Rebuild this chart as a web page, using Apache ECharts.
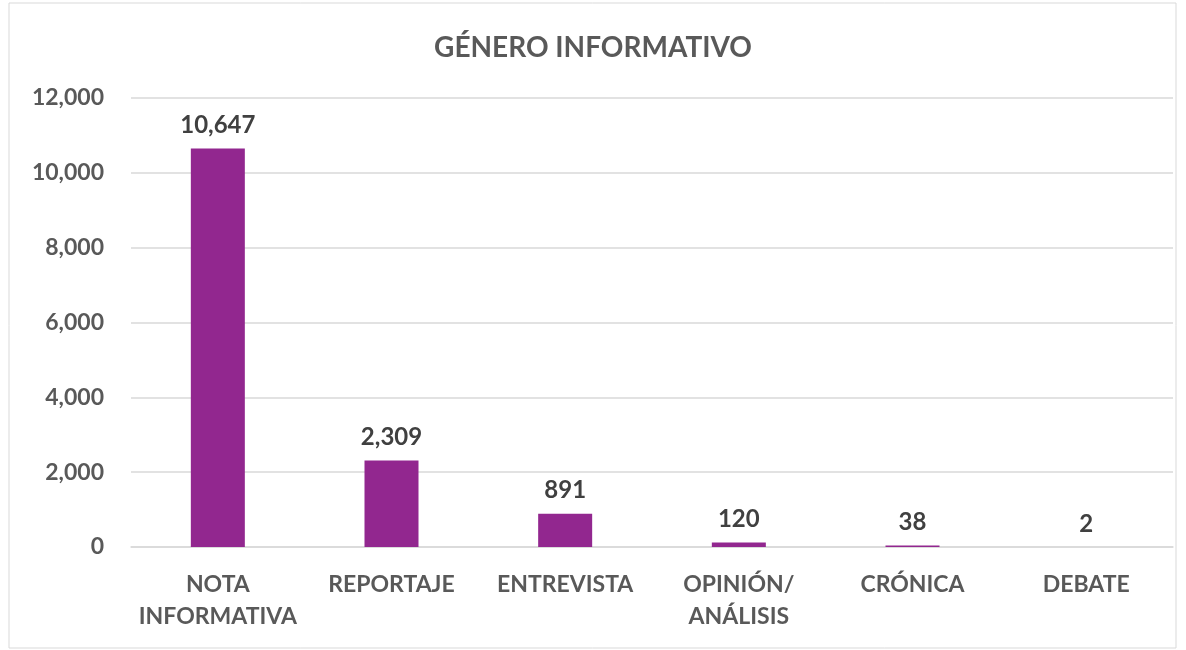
<!DOCTYPE html>
<html>
<head>
<meta charset="utf-8">
<style>
  html, body { margin: 0; padding: 0; background: #fff; }
  #main { width: 1186px; height: 650px; }
</style>
<script src="https://cdn.jsdelivr.net/npm/echarts@6/dist/echarts.min.js"></script>
</head>
<body>
<div id="main"></div>
<script>
// 数据
const categories = ['NOTA\nINFORMATIVA', 'REPORTAJE', 'ENTREVISTA', 'OPINIÓN/\nANÁLISIS', 'CRÓNICA', 'DEBATE'];
const values = [10647, 2309, 891, 120, 38, 2];
const yTicks = [0, 2000, 4000, 6000, 8000, 10000, 12000];

const fontName = 'Lato, "Open Sans", sans-serif';

const chart = echarts.init(document.getElementById('main'));

const option = {
    animation: false,
    title: {
        text: 'GÉNERO INFORMATIVO',
        left: 'center',
        top: 29,
        textStyle: {
            fontFamily: fontName,
            fontSize: 28,
            fontWeight: 'bold',
            color: '#595959'
        }
    },
    graphic: [{
        type: 'rect',
        shape: { x: 9, y: 3, width: 1167, height: 645 },
        style: { fill: 'none', stroke: '#d9d9d9', lineWidth: 1 },
        silent: true
    }],
    grid: {
        left: 131,
        right: 13,
        top: 98,
        bottom: 103
    },
    xAxis: {
        type: 'category',
        data: categories,
        axisLine: { lineStyle: { color: '#d9d9d9', width: 1.5 } },
        axisTick: { show: false },
        axisLabel: {
            interval: 0,
            margin: 22,
            fontFamily: fontName,
            fontSize: 23,
            fontWeight: 'bold',
            lineHeight: 32,
            color: '#595959'
        }
    },
    yAxis: {
        type: 'value',
        min: yTicks[0],
        max: yTicks[yTicks.length - 1],
        interval: 2000,
        axisLine: { show: false },
        axisTick: { show: false },
        splitLine: { lineStyle: { color: '#d9d9d9', width: 1.5 } },
        axisLabel: {
            margin: 27,
            fontFamily: fontName,
            fontSize: 23,
            fontWeight: 'bold',
            color: '#595959',
            formatter: v => v.toLocaleString('en-US')
        }
    },
    series: [{
        type: 'bar',
        data: values,
        barWidth: 54,
        itemStyle: { color: '#92278f' },
        label: {
            show: true,
            position: 'top',
            distance: 11,
            fontFamily: fontName,
            fontSize: 24,
            fontWeight: 'bold',
            color: '#404040',
            formatter: p => p.value.toLocaleString('en-US')
        }
    }]
};

chart.setOption(option);
</script>
</body>
</html>
